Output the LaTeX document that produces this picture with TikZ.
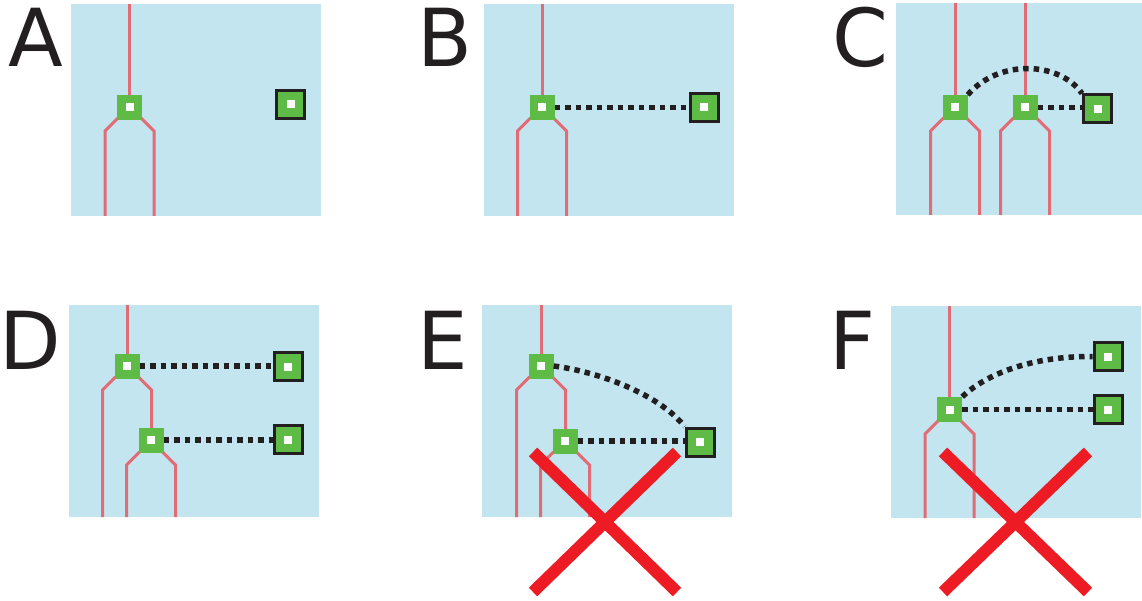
\documentclass[tikz,border=0pt]{standalone}
\usepackage{fontspec}
\setmainfont{DejaVu Sans}
\definecolor{bgblue}{RGB}{194,229,240}
\definecolor{gfill}{RGB}{94,187,70}
\definecolor{redl}{RGB}{226,108,117}
\definecolor{xred}{RGB}{237,28,36}
\definecolor{dk}{RGB}{35,31,32}
\tikzset{
  panel/.style={fill=bgblue},
  gnode/.style={rectangle, fill=gfill, minimum size=25pt, inner sep=0pt,
    path picture={\fill[white] ([xshift=-4pt,yshift=-4pt]path picture bounding box.center) rectangle ([xshift=4pt,yshift=4pt]path picture bounding box.center);}},
  tnode/.style={rectangle, draw=dk, line width=3pt, fill=gfill, minimum size=28pt, inner sep=0pt,
    path picture={\fill[white] ([xshift=-4pt,yshift=-4pt]path picture bounding box.center) rectangle ([xshift=4pt,yshift=4pt]path picture bounding box.center);}},
  fiber/.style={draw=redl, line width=3pt},
  dotl/.style={draw=dk, line width=5.5pt, dash pattern=on 5.5pt off 5pt},
  cross/.style={draw=xred, line width=12pt},
  letter/.style={anchor=base west, inner sep=0pt, text=dk, font=\fontsize{80}{80}\selectfont}
}
\begin{document}
\begin{tikzpicture}[x=1pt,y=-1pt]
\path[use as bounding box] (0,0) rectangle (1142,601);
% backgrounds
\fill[panel] (71,4) rectangle (321,216);
\fill[panel] (484,4) rectangle (734,216);
\fill[panel] (896,3) rectangle (1142,215);
\fill[panel] (69,305) rectangle (319,517);
\fill[panel] (482,305) rectangle (732,517);
\fill[panel] (891,306) rectangle (1141,518);
% letters
\node[letter] (LA) at (8,67) {A};
\node[letter] (LB) at (417,67) {B};
\node[letter] (LC) at (832,67) {C};
\node[letter] (LD) at (-1,369) {D};
\node[letter] (LE) at (417,369) {E};
\node[letter] (LF) at (829,369) {F};
% ---------- A
\draw[fiber] (129.5,4) -- (129.5,100);
\draw[fiber] (118,118) -- (105,131) -- (105,216);
\draw[fiber] (141,118) -- (154,131) -- (154,216);
\node[gnode] (a1) at (129.5,107.5) {};
\node[tnode] (a2) at (290.5,104.5) {};
% ---------- B
\draw[fiber] (542,4) -- (542,100);
\draw[fiber] (530.5,118) -- (517.5,131) -- (517.5,216);
\draw[fiber] (553.5,118) -- (566.5,131) -- (566.5,216);
\node[gnode] (b1) at (542,107.5) {};
\node[tnode] (b2) at (704,107.5) {};
\draw[dotl] (b1) -- (b2);
% ---------- C
\draw[fiber] (955,3) -- (955,100);
\draw[fiber] (943.5,118) -- (930.5,131) -- (930.5,215);
\draw[fiber] (966.5,118) -- (979.5,131) -- (979.5,215);
\draw[fiber] (1025,3) -- (1025,100);
\draw[fiber] (1013.5,118) -- (1000.5,131) -- (1000.5,215);
\draw[fiber] (1036.5,118) -- (1049.5,131) -- (1049.5,215);
\node[gnode] (c1) at (955,107.5) {};
\node[gnode] (c2) at (1025,107.5) {};
\node[tnode] (c3) at (1097.5,109) {};
\draw[dotl] (c2.east) -- (c2.east -| c3.west);
\draw[dotl] (c1.north east) .. controls (1000,58) and (1060,62) .. (c3.north west);
% ---------- D
\draw[fiber] (127,305) -- (127,359);
\draw[fiber] (115.5,377) -- (102.5,390) -- (102.5,517);
\draw[fiber] (138.5,377) -- (151.5,390) -- (151.5,430);
\draw[fiber] (139.5,452) -- (126.5,465) -- (126.5,517);
\draw[fiber] (162.5,452) -- (175.5,465) -- (175.5,517);
\node[gnode] (d1) at (127,366) {};
\node[gnode] (d2) at (151,440) {};
\node[tnode] (d3) at (288,366.5) {};
\node[tnode] (d4) at (288,439.5) {};
\draw[dotl] (d1.east) -- (d1.east -| d3.west);
\draw[dotl] (d2.east) -- (d2.east -| d4.west);
% ---------- E
\draw[fiber] (541,305) -- (541,359);
\draw[fiber] (529.5,377) -- (516.5,390) -- (516.5,517);
\draw[fiber] (552.5,377) -- (565.5,390) -- (565.5,430);
\draw[fiber] (553.5,452) -- (540.5,465) -- (540.5,517);
\draw[fiber] (576.5,452) -- (589.5,465) -- (589.5,517);
\node[gnode] (e1) at (541,366) {};
\node[gnode] (e2) at (565,441) {};
\node[tnode] (e3) at (700,442) {};
\draw[dotl] (e2.east) -- (e2.east -| e3.west);
\draw[dotl] (e1.east) .. controls (600,372) and (660,395) .. (e3.north west);
\draw[cross] (533,452) -- (677,592);
\draw[cross] (677,452) -- (533,592);
% ---------- F
\draw[fiber] (949.5,306) -- (949.5,402);
\draw[fiber] (938,421) -- (925,434) -- (925,518);
\draw[fiber] (961,421) -- (974,434) -- (974,518);
\node[gnode] (f1) at (949.5,409.5) {};
\node[tnode] (f2) at (1108,356.5) {};
\node[tnode] (f3) at (1108,409.5) {};
\draw[dotl] (f1) -- (f3);
\draw[dotl] (f1.north east) .. controls (985,375) and (1030,356) .. (f2.west);
\draw[cross] (943,452) -- (1088,592);
\draw[cross] (1088,452) -- (943,592);
\end{tikzpicture}
\end{document}
